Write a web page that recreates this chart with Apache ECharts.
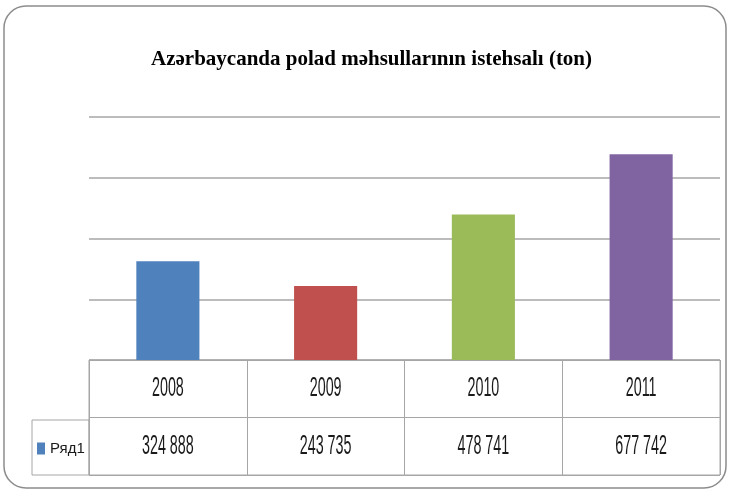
<!DOCTYPE html>
<html>
<head>
<meta charset="utf-8">
<script src="https://cdn.jsdelivr.net/npm/echarts@6/dist/echarts.min.js"></script>
<style>
html,body{margin:0;padding:0;background:#fff;}
#chart{width:730px;height:491px;}
</style>
</head>
<body>
<div id="chart"></div>
<script>
// ---- data ----
var titleText = 'Azərbaycanda polad məhsullarının istehsalı (ton)';
var seriesName = 'Ряд1';
var categories = ['2008', '2009', '2010', '2011'];
var values = [324888, 243735, 478741, 677742];
var barColors = ['#4F81BD', '#C0504D', '#9BBB59', '#8064A2'];
var tableRows = ['header', 'values'];
var yMin = 0, yMax = 800000, yInterval = 200000;

function fmt(v) {
  return String(v).replace(/\B(?=(\d{3})+(?!\d))/g, ' ');
}

var tableFont = "'Liberation Sans', Arial, sans-serif";
var gridColor = '#A6A6A6';

// table cells: header row holds categories, second row holds values
var tableCells = [];
categories.forEach(function (c) { tableCells.push({ value: [c, tableRows[0]], text: c }); });
categories.forEach(function (c, i) { tableCells.push({ value: [c, tableRows[1]], text: fmt(values[i]) }); });

var chart = echarts.init(document.getElementById('chart'));
chart.setOption({
  animation: false,
  backgroundColor: '#fff',
  title: {
    text: titleText,
    left: 146,
    top: 44,
    textStyle: {
      fontFamily: "'Liberation Serif', 'DejaVu Serif', serif",
      fontWeight: 'bold',
      fontSize: 21,
      color: '#000'
    }
  },
  legend: {
    data: [seriesName],
    left: 37,
    top: 441,
    icon: 'rect',
    itemWidth: 8,
    itemHeight: 12,
    padding: 0,
    textStyle: { fontFamily: tableFont, fontSize: 15, color: '#1a1a1a' }
  },
  grid: [
    { left: 89, right: 10, top: 117, height: 243 },
    { left: 89, right: 10, top: 360, height: 115, show: true, borderColor: gridColor, borderWidth: 1 }
  ],
  xAxis: [
    {
      type: 'category', gridIndex: 0, data: categories,
      axisLine: { show: false }, axisTick: { show: false }, axisLabel: { show: false }
    },
    {
      type: 'category', gridIndex: 1, data: categories,
      axisLine: { show: false }, axisTick: { show: false }, axisLabel: { show: false },
      splitLine: { show: true, interval: 0, lineStyle: { color: gridColor, width: 1 } }
    }
  ],
  yAxis: [
    {
      type: 'value', gridIndex: 0, min: yMin, max: yMax, interval: yInterval,
      axisLine: { show: false }, axisTick: { show: false }, axisLabel: { show: false },
      splitLine: { show: true, lineStyle: { color: gridColor, width: 1.5 } }
    },
    {
      type: 'category', gridIndex: 1, data: tableRows, inverse: true,
      axisLine: { show: false }, axisTick: { show: false }, axisLabel: { show: false },
      splitLine: { show: true, interval: 0, lineStyle: { color: gridColor, width: 1 } }
    }
  ],
  graphic: [
    {
      type: 'rect', z: -1,
      shape: { x: 4, y: 6, width: 722, height: 482, r: 22 },
      style: { fill: '#fff', stroke: '#8C8C8C', lineWidth: 1.5 }
    },
    {
      type: 'rect', z: 5,
      shape: { x: 32, y: 420, width: 57, height: 55 },
      style: { fill: 'none', stroke: gridColor, lineWidth: 1 }
    }
  ],
  series: [
    {
      name: seriesName,
      type: 'bar',
      xAxisIndex: 0, yAxisIndex: 0,
      barWidth: '40%',
      itemStyle: { color: barColors[0] },
      data: values.map(function (v, i) {
        return { value: v, itemStyle: { color: barColors[i] } };
      })
    },
    {
      name: 'table',
      type: 'custom',
      xAxisIndex: 1, yAxisIndex: 1,
      silent: true,
      data: tableCells,
      renderItem: function (params, api) {
        var pt = api.coord([api.value(0), api.value(1)]);
        return {
          type: 'text',
          x: pt[0],
          y: pt[1],
          scaleX: 0.53,
          style: {
            text: tableCells[params.dataIndex].text,
            fontFamily: tableFont,
            fontSize: 27,
            fill: '#1a1a1a',
            align: 'center',
            verticalAlign: 'middle'
          }
        };
      }
    }
  ]
});
</script>
</body>
</html>
